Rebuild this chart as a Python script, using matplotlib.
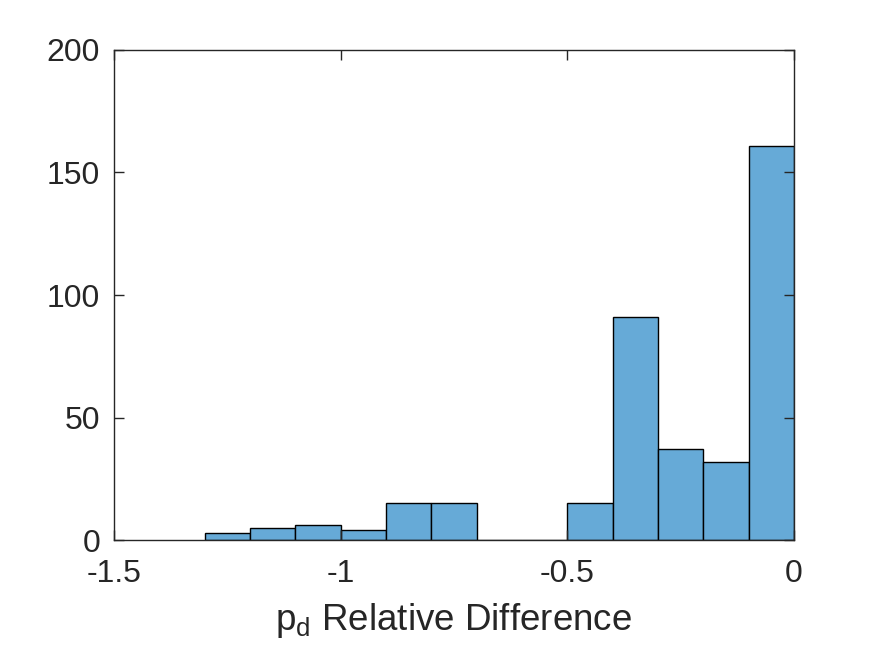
import numpy as np
from matplotlib import pyplot as plt

plt.rcParams['font.family'] = ['Liberation Sans', 'DejaVu Sans']
plt.rcParams['mathtext.fontset'] = 'custom'
plt.rcParams['mathtext.rm'] = 'Liberation Sans'

# histogram bins
bin_edges = np.round(np.arange(-1.3, 0.001, 0.1), 2)
counts = [3, 5, 6, 4, 15, 15, 0, 0, 15, 91, 37, 32, 161]
xticks = [-1.5, -1, -0.5, 0]
xtick_labels = ['-1.5', '-1', '-0.5', '0']
yticks = [0, 50, 100, 150, 200]

txt = '#262626'
fig = plt.figure(figsize=(8.75, 6.56), dpi=100)
ax = fig.add_axes([0.1303, 0.1768, 0.777, 0.747])

ax.hist(bin_edges[:-1] + 0.05, bins=bin_edges, weights=counts,
        color='#66AAD7', edgecolor='black', linewidth=1.0)

ax.set_xlim(-1.5, 0)
ax.set_ylim(0, 200)
ax.set_xticks(xticks)
ax.set_xticklabels(xtick_labels)
ax.set_yticks(yticks)
ax.tick_params(direction='in', length=7, width=1, colors=txt, labelsize=23,
               top=True, right=True)
ax.tick_params(axis='x', pad=14)
ax.tick_params(axis='y', pad=10)
for s in ax.spines.values():
    s.set_color(txt)
    s.set_linewidth(1)

ax.set_xlabel(r'$\mathregular{p_d}$ Relative Difference', fontsize=26.5, color=txt, labelpad=8)

fig.savefig('out.png', dpi=100)
